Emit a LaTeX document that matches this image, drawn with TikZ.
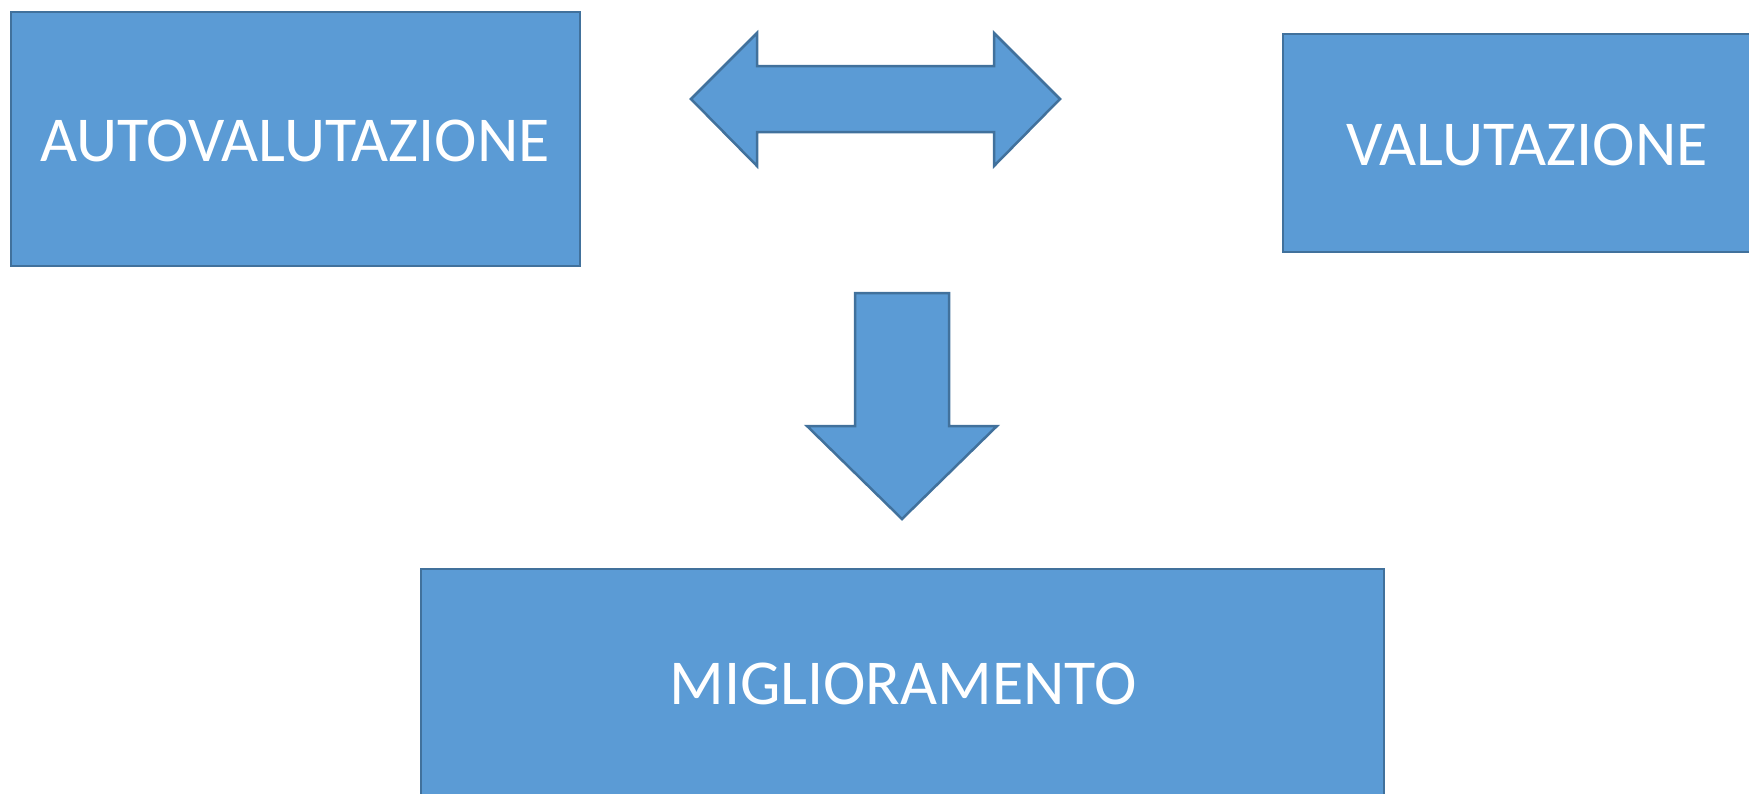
\documentclass[tikz,border=0pt]{standalone}
\usepackage{fontspec}
\setmainfont{Carlito}
\definecolor{boxfill}{HTML}{5B9BD5}
\definecolor{boxline}{HTML}{41719C}
\tikzset{
  blockbox/.style={draw=boxline, fill=boxfill, line width=2.5pt, rectangle, inner sep=0pt},
  blockarrow/.style={draw=boxline, fill=boxfill, line width=2.5pt, line join=miter},
  boxtext/.style={text=white, font=\fontsize{64}{72}\selectfont, inner sep=0pt}
}
\begin{document}
\begin{tikzpicture}[x=1pt,y=-1pt]
\useasboundingbox (0,0) rectangle (1749,793);
\clip (0,0) rectangle (1749,793);
% boxes
\node[blockbox, minimum width=569pt, minimum height=254pt] (auto) at (295.5,139) {};
\node[boxtext] (autot) at (295,141) {AUTOVALUTAZIONE};
\node[blockbox, minimum width=488pt, minimum height=218pt] (val) at (1527,143) {};
\node[boxtext] (valt) at (1527,145) {VALUTAZIONE};
\node[blockbox, minimum width=963pt, minimum height=230pt] (mig) at (902.5,684) {};
\node[boxtext] (migt) at (903,684) {MIGLIORAMENTO};
% double arrow
\draw[blockarrow] (691,99) -- (757,33) -- (757,66) -- (994,66) -- (994,33) -- (1060,99)
  -- (994,166) -- (994,132) -- (757,132) -- (757,166) -- cycle;
% down arrow
\draw[blockarrow] (855,293) -- (949,293) -- (949,426) -- (997,426) -- (902,519)
  -- (807,426) -- (855,426) -- cycle;
\end{tikzpicture}
\end{document}
